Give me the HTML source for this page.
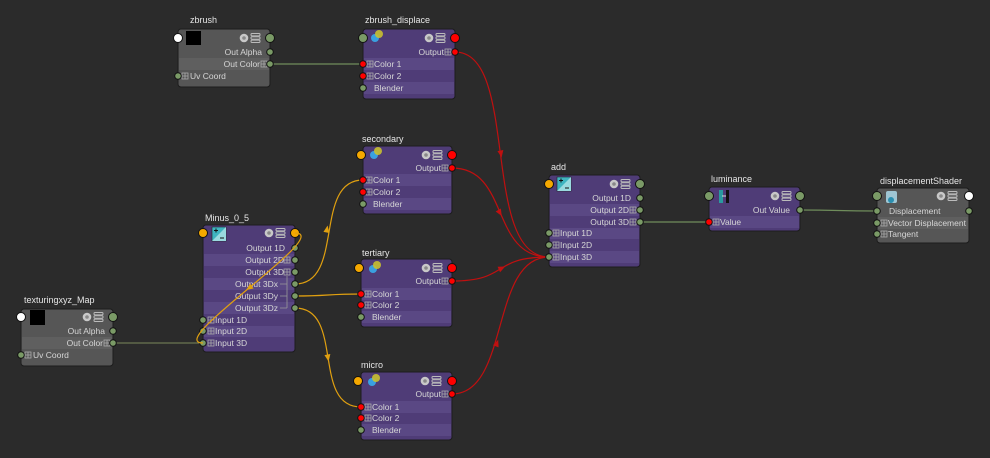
<!DOCTYPE html>
<html><head><meta charset="utf-8"><style>
html,body{margin:0;padding:0;background:#2b2b2b;width:990px;height:458px;overflow:hidden}
svg{display:block}
text{font-family:"Liberation Sans",sans-serif;font-size:8.5px;fill:#d6d6d6}
.t{font-size:9px;fill:#e6e6e6}
.r{text-anchor:end}
</style></head><body>
<svg width="990" height="458" viewBox="0 0 990 458" xmlns="http://www.w3.org/2000/svg">
<defs>
<g id="hi"><circle cx="0" cy="0" r="4.3" fill="#c8c8c8"/><circle cx="0" cy="0" r="1.8" fill="#888"/>
<rect x="7" y="-4.5" width="9" height="2.4" rx="1" fill="none" stroke="#bbb" stroke-width="1"/><rect x="7" y="-1.2" width="9" height="2.4" rx="1" fill="none" stroke="#bbb" stroke-width="1"/><rect x="7" y="2.1" width="9" height="2.4" rx="1" fill="none" stroke="#bbb" stroke-width="1"/></g>
<g id="pb"><rect x="0" y="-3" width="6" height="6" fill="none" stroke="#aaa" stroke-width="0.8"/><path d="M3 -3V3M0 0H6" stroke="#aaa" stroke-width="0.8"/></g>
<g id="balls"><circle cx="-2" cy="2" r="4" fill="#3aa0e0"/><circle cx="2" cy="-2" r="4" fill="#c8c030" opacity="0.9"/></g>
<g id="math"><rect x="-7" y="-7" width="14" height="14" fill="#3fb4c0" stroke="#222" stroke-width="0.6"/><path d="M-7 7L7 -7V7Z" fill="#9adadf"/><path d="M-5 -3.5H-1M-3 -5.5V-1.5M1 4H5" stroke="#111" stroke-width="1"/></g>
<polygon id="ar" points="-3.5,-3 3.5,0 -3.5,3"/>
</defs>

<!-- connections -->
<g fill="none" stroke-width="1.2">
<path d="M270 64H363" stroke="#6f8d5b"/>
<path d="M113 343H203" stroke="#6b7652"/>
<path d="M640 222H709" stroke="#6f8d5b"/>
<path d="M800 210C838 210 838 211 876 211" stroke="#6f8d5b"/>
<g stroke="#c01010">
<path d="M455 52C520 52 480 257 549 257"/>
<path d="M452 168C510 168 490 257 549 257"/>
<path d="M452 281C510 281 490 257 549 257"/>
<path d="M452 394C510 394 490 257 549 257"/>
</g>
<g stroke="#e0a010">
<path d="M295 284C345 284 313 180 363 180"/>
<path d="M295 296C330 296 326 294 361 294"/>
<path d="M295 308C345 308 311 407 361 407"/>
</g>
</g>
<g fill="#c01010">
<use href="#ar" transform="translate(501,154) rotate(80)"/>
<use href="#ar" transform="translate(500,213) rotate(60)"/>
<use href="#ar" transform="translate(502,268) rotate(-25)"/>
<use href="#ar" transform="translate(497,343) rotate(-70)"/>
</g>
<g fill="#e0a010">
<use href="#ar" transform="translate(327,229) rotate(-80)"/>
<use href="#ar" transform="translate(328,358) rotate(80)"/>
</g>

<!-- zbrush -->
<text class="t" x="190" y="23">zbrush</text>
<rect x="178" y="29" width="92" height="58" rx="3" fill="#565656" stroke="#1c1c1c"/>
<rect x="179" y="58" width="90" height="12" fill="#5f5f5f"/>
<rect x="186" y="31" width="15" height="14" fill="#000"/>
<use href="#hi" x="244" y="38"/>
<text class="r" x="262" y="55">Out Alpha</text>
<text class="r" x="260" y="67">Out Color</text><use href="#pb" x="261" y="64"/>
<use href="#pb" x="182" y="76"/><text x="190" y="79">Uv Coord</text>
<circle cx="178" cy="38" r="4.5" fill="#fff" stroke="#111"/>
<circle cx="270" cy="38" r="4.5" fill="#7a9a66" stroke="#111"/>
<circle cx="270" cy="52" r="3.3" fill="#7a9a66" stroke="#111"/>
<circle cx="270" cy="64" r="3.3" fill="#7a9a66" stroke="#111"/>
<circle cx="178" cy="76" r="3.3" fill="#7a9a66" stroke="#111"/>

<!-- zbrush_displace -->
<text class="t" x="365" y="23">zbrush_displace</text>
<rect x="363" y="29" width="92" height="70" rx="3" fill="#4f3c77" stroke="#1c1c1c"/>
<rect x="364" y="58" width="90" height="12" fill="#5a4884"/><rect x="364" y="82" width="90" height="12" fill="#5a4884"/>
<use href="#balls" x="377" y="36"/><use href="#hi" x="429" y="38"/>
<text class="r" x="444" y="55">Output</text><use href="#pb" x="445" y="52"/>
<use href="#pb" x="367" y="64"/><text x="374" y="67">Color 1</text>
<use href="#pb" x="367" y="76"/><text x="374" y="79">Color 2</text>
<text x="374" y="91">Blender</text>
<circle cx="363" cy="38" r="4.5" fill="#7a9a66" stroke="#111"/>
<circle cx="455" cy="38" r="4.5" fill="#f00" stroke="#111"/>
<circle cx="455" cy="52" r="3.3" fill="#f00" stroke="#111"/>
<circle cx="363" cy="64" r="3.3" fill="#f00" stroke="#111"/>
<circle cx="363" cy="76" r="3.3" fill="#f00" stroke="#111"/>
<circle cx="363" cy="88" r="3.3" fill="#7a9a66" stroke="#111"/>

<!-- secondary -->
<text class="t" x="362" y="142">secondary</text>
<rect x="363" y="146" width="89" height="68" rx="3" fill="#4f3c77" stroke="#1c1c1c"/>
<rect x="364" y="174" width="87" height="12" fill="#5a4884"/><rect x="364" y="198" width="87" height="12" fill="#5a4884"/>
<use href="#balls" x="376" y="153"/><use href="#hi" x="426" y="155"/>
<text class="r" x="441" y="171">Output</text><use href="#pb" x="442" y="168"/>
<use href="#pb" x="366" y="180"/><text x="373" y="183">Color 1</text>
<use href="#pb" x="366" y="192"/><text x="373" y="195">Color 2</text>
<text x="373" y="207">Blender</text>
<circle cx="361" cy="155" r="4.5" fill="#f5a800" stroke="#111"/>
<circle cx="452" cy="155" r="4.5" fill="#f00" stroke="#111"/>
<circle cx="452" cy="168" r="3.3" fill="#f00" stroke="#111"/>
<circle cx="363" cy="180" r="3.3" fill="#f00" stroke="#111"/>
<circle cx="363" cy="192" r="3.3" fill="#f00" stroke="#111"/>
<circle cx="363" cy="204" r="3.3" fill="#7a9a66" stroke="#111"/>

<!-- tertiary -->
<text class="t" x="362" y="256">tertiary</text>
<rect x="361" y="259" width="91" height="68" rx="3" fill="#4f3c77" stroke="#1c1c1c"/>
<rect x="362" y="288" width="89" height="12" fill="#5a4884"/><rect x="362" y="311" width="89" height="12" fill="#5a4884"/>
<use href="#balls" x="375" y="267"/><use href="#hi" x="426" y="268"/>
<text class="r" x="441" y="284">Output</text><use href="#pb" x="442" y="281"/>
<use href="#pb" x="365" y="294"/><text x="372" y="297">Color 1</text>
<use href="#pb" x="365" y="305"/><text x="372" y="308">Color 2</text>
<text x="372" y="320">Blender</text>
<circle cx="359" cy="268" r="4.5" fill="#f5a800" stroke="#111"/>
<circle cx="452" cy="268" r="4.5" fill="#f00" stroke="#111"/>
<circle cx="452" cy="281" r="3.3" fill="#f00" stroke="#111"/>
<circle cx="361" cy="294" r="3.3" fill="#f00" stroke="#111"/>
<circle cx="361" cy="305" r="3.3" fill="#f00" stroke="#111"/>
<circle cx="361" cy="317" r="3.3" fill="#7a9a66" stroke="#111"/>

<!-- micro -->
<text class="t" x="361" y="368">micro</text>
<rect x="361" y="372" width="91" height="68" rx="3" fill="#4f3c77" stroke="#1c1c1c"/>
<rect x="362" y="401" width="89" height="12" fill="#5a4884"/><rect x="362" y="424" width="89" height="12" fill="#5a4884"/>
<use href="#balls" x="374" y="380"/><use href="#hi" x="425" y="381"/>
<text class="r" x="441" y="397">Output</text><use href="#pb" x="442" y="394"/>
<use href="#pb" x="365" y="407"/><text x="372" y="410">Color 1</text>
<use href="#pb" x="365" y="418"/><text x="372" y="421">Color 2</text>
<text x="372" y="433">Blender</text>
<circle cx="358" cy="381" r="4.5" fill="#f5a800" stroke="#111"/>
<circle cx="452" cy="381" r="4.5" fill="#f00" stroke="#111"/>
<circle cx="452" cy="394" r="3.3" fill="#f00" stroke="#111"/>
<circle cx="361" cy="407" r="3.3" fill="#f00" stroke="#111"/>
<circle cx="361" cy="418" r="3.3" fill="#f00" stroke="#111"/>
<circle cx="361" cy="430" r="3.3" fill="#7a9a66" stroke="#111"/>

<!-- Minus_0_5 -->
<text class="t" x="205" y="221">Minus_0_5</text>
<rect x="203" y="225" width="92" height="127" rx="3" fill="#4f3c77" stroke="#1c1c1c"/>
<rect x="204" y="254" width="90" height="12" fill="#5a4884"/><rect x="204" y="278" width="90" height="12" fill="#5a4884"/><rect x="204" y="302" width="90" height="12" fill="#5a4884"/><rect x="204" y="326" width="90" height="11" fill="#5a4884"/>
<use href="#math" x="219" y="234"/><use href="#hi" x="269" y="233"/>
<text class="r" x="285" y="251">Output 1D</text>
<text class="r" x="284" y="263">Output 2D</text><use href="#pb" x="284" y="260"/>
<text class="r" x="284" y="275">Output 3D</text><use href="#pb" x="284" y="272"/>
<text class="r" x="278" y="287">Output 3Dx</text>
<text class="r" x="278" y="299">Output 3Dy</text>
<text class="r" x="278" y="311">Output 3Dz</text>
<path d="M280 284H287M280 296H287M280 308H287M287 276V308" stroke="#999" stroke-width="0.8" fill="none"/>
<use href="#pb" x="208" y="320"/><text x="215" y="323">Input 1D</text>
<use href="#pb" x="208" y="331"/><text x="215" y="334">Input 2D</text>
<use href="#pb" x="208" y="343"/><text x="215" y="346">Input 3D</text>
<circle cx="203" cy="233" r="4.5" fill="#f5a800" stroke="#111"/>
<circle cx="295" cy="233" r="4.5" fill="#f5a800" stroke="#111"/>
<circle cx="295" cy="248" r="3.3" fill="#7a9a66" stroke="#111"/>
<circle cx="295" cy="260" r="3.3" fill="#7a9a66" stroke="#111"/>
<circle cx="295" cy="272" r="3.3" fill="#7a9a66" stroke="#111"/>
<circle cx="295" cy="284" r="3.3" fill="#7a9a66" stroke="#111"/>
<circle cx="295" cy="296" r="3.3" fill="#7a9a66" stroke="#111"/>
<circle cx="295" cy="308" r="3.3" fill="#7a9a66" stroke="#111"/>
<circle cx="203" cy="320" r="3.3" fill="#7a9a66" stroke="#111"/>
<circle cx="203" cy="331" r="3.3" fill="#7a9a66" stroke="#111"/>
<circle cx="203" cy="343" r="3.3" fill="#7a9a66" stroke="#111"/>
<path d="M295 233C335 233 163 343 203 343" stroke="#e0a010" stroke-width="1.2" fill="none"/>
<use href="#ar" fill="#e0a010" transform="translate(249,288) rotate(145)"/>

<!-- texturingxyz_Map -->
<text class="t" x="24" y="303">texturingxyz_Map</text>
<rect x="21" y="309" width="92" height="57" rx="3" fill="#565656" stroke="#1c1c1c"/>
<rect x="22" y="337" width="90" height="12" fill="#5f5f5f"/>
<rect x="30" y="310" width="15" height="15" fill="#000"/>
<use href="#hi" x="87" y="317"/>
<text class="r" x="105" y="334">Out Alpha</text>
<text class="r" x="103" y="346">Out Color</text><use href="#pb" x="104" y="343"/>
<use href="#pb" x="25" y="355"/><text x="33" y="358">Uv Coord</text>
<circle cx="21" cy="317" r="4.5" fill="#fff" stroke="#111"/>
<circle cx="113" cy="317" r="4.5" fill="#7a9a66" stroke="#111"/>
<circle cx="113" cy="331" r="3.3" fill="#7a9a66" stroke="#111"/>
<circle cx="113" cy="343" r="3.3" fill="#7a9a66" stroke="#111"/>
<circle cx="21" cy="355" r="3.3" fill="#7a9a66" stroke="#111"/>

<!-- add -->
<text class="t" x="551" y="170">add</text>
<rect x="549" y="175" width="91" height="92" rx="3" fill="#4f3c77" stroke="#1c1c1c"/>
<rect x="550" y="204" width="89" height="12" fill="#5a4884"/><rect x="550" y="228" width="89" height="11" fill="#5a4884"/><rect x="550" y="251" width="89" height="12" fill="#5a4884"/>
<use href="#math" x="564" y="184"/><use href="#hi" x="614" y="184"/>
<text class="r" x="631" y="201">Output 1D</text>
<text class="r" x="629" y="213">Output 2D</text><use href="#pb" x="630" y="210"/>
<text class="r" x="629" y="225">Output 3D</text><use href="#pb" x="630" y="222"/>
<use href="#pb" x="553" y="233"/><text x="560" y="236">Input 1D</text>
<use href="#pb" x="553" y="245"/><text x="560" y="248">Input 2D</text>
<use href="#pb" x="553" y="257"/><text x="560" y="260">Input 3D</text>
<circle cx="549" cy="184" r="4.5" fill="#f5a800" stroke="#111"/>
<circle cx="640" cy="184" r="4.5" fill="#7a9a66" stroke="#111"/>
<circle cx="640" cy="198" r="3.3" fill="#7a9a66" stroke="#111"/>
<circle cx="640" cy="210" r="3.3" fill="#7a9a66" stroke="#111"/>
<circle cx="640" cy="222" r="3.3" fill="#7a9a66" stroke="#111"/>
<circle cx="549" cy="233" r="3.3" fill="#7a9a66" stroke="#111"/>
<circle cx="549" cy="245" r="3.3" fill="#7a9a66" stroke="#111"/>
<circle cx="549" cy="257" r="3.3" fill="#7a9a66" stroke="#111"/>

<!-- luminance -->
<text class="t" x="711" y="182">luminance</text>
<rect x="709" y="187" width="91" height="44" rx="3" fill="#4f3c77" stroke="#1c1c1c"/>
<rect x="710" y="216" width="89" height="12" fill="#5a4884"/>
<rect x="719" y="190" width="4" height="13" fill="#2a9aa0"/><rect x="726" y="190" width="3" height="13" fill="#111"/><path d="M722 196H726" stroke="#ddd" stroke-width="1"/>
<use href="#hi" x="775" y="196"/>
<text class="r" x="790" y="213">Out Value</text>
<use href="#pb" x="713" y="222"/><text x="720" y="225">Value</text>
<circle cx="709" cy="196" r="4.5" fill="#7a9a66" stroke="#111"/>
<circle cx="800" cy="196" r="4.5" fill="#7a9a66" stroke="#111"/>
<circle cx="800" cy="210" r="3.3" fill="#7a9a66" stroke="#111"/>
<circle cx="709" cy="222" r="3.3" fill="#f00" stroke="#111"/>

<!-- displacementShader -->
<text class="t" x="880" y="184">displacementShader</text>
<rect x="877" y="188" width="92" height="55" rx="3" fill="#565656" stroke="#1c1c1c"/>
<rect x="878" y="217" width="90" height="12" fill="#5f5f5f"/>
<rect x="886" y="191" width="11" height="12" rx="2" fill="#9fc6d4"/><circle cx="891" cy="200" r="3" fill="#2b8fb0"/>
<use href="#hi" x="941" y="196"/>
<text x="889" y="214">Displacement</text>
<use href="#pb" x="881" y="223"/><text x="888" y="226">Vector Displacement</text>
<use href="#pb" x="881" y="234"/><text x="888" y="237">Tangent</text>
<circle cx="877" cy="196" r="4.5" fill="#7a9a66" stroke="#111"/>
<circle cx="969" cy="196" r="4.5" fill="#fff" stroke="#111"/>
<circle cx="877" cy="211" r="3.3" fill="#7a9a66" stroke="#111"/>
<circle cx="969" cy="211" r="3.3" fill="#7a9a66" stroke="#111"/>
<circle cx="877" cy="223" r="3.3" fill="#7a9a66" stroke="#111"/>
<circle cx="877" cy="234" r="3.3" fill="#7a9a66" stroke="#111"/>
</svg>
</body></html>
